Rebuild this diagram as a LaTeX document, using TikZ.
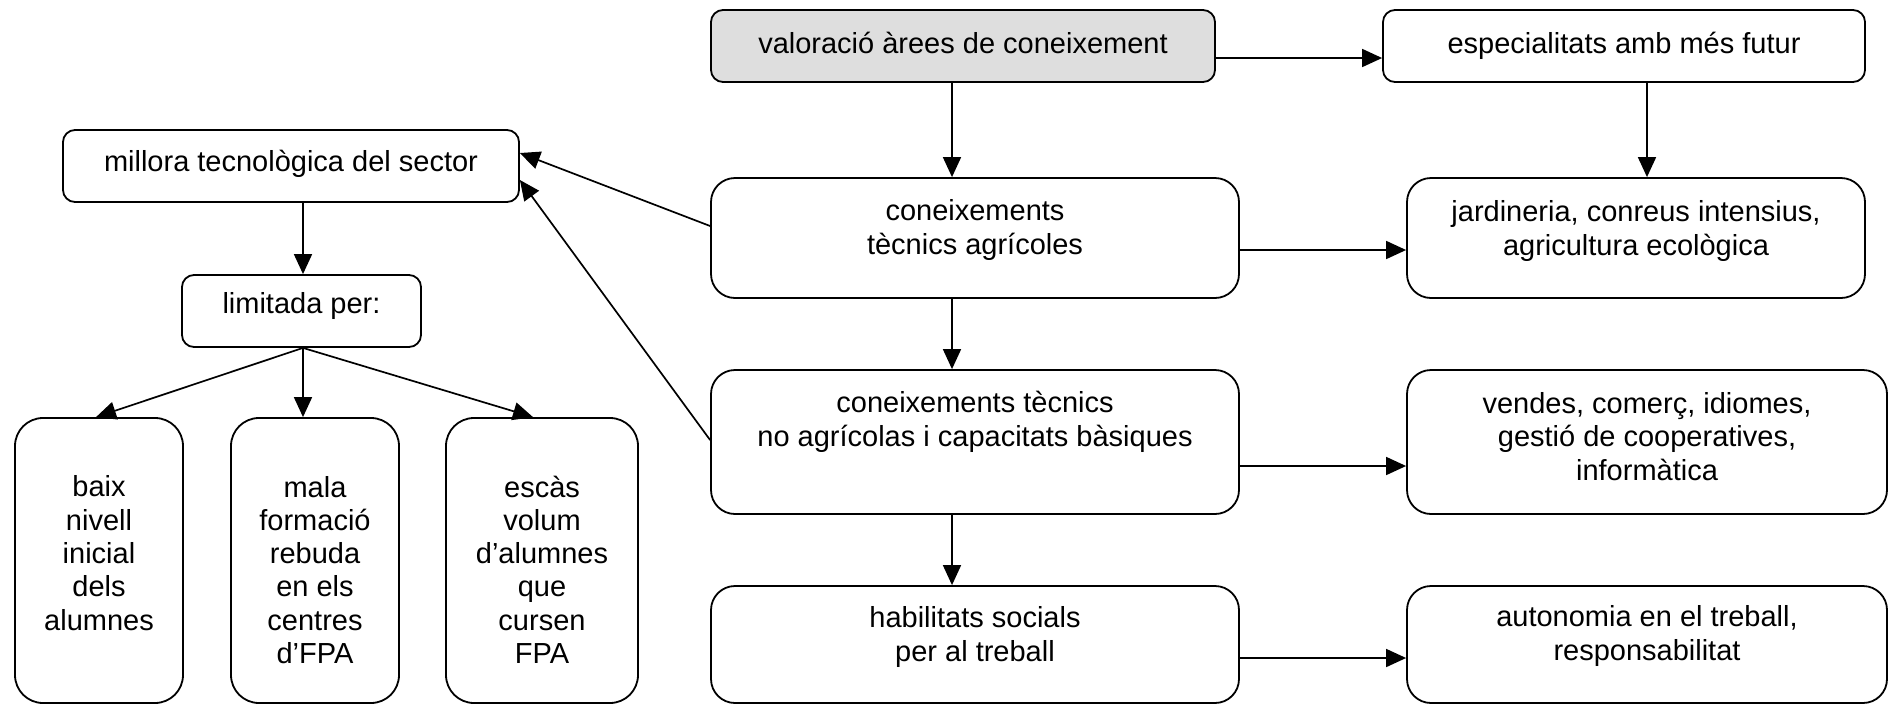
\documentclass[tikz,border=0pt]{standalone}
\usepackage{fontspec}
\setmainfont{Liberation Sans}
\usetikzlibrary{arrows.meta}
\begin{document}
\begin{tikzpicture}[x=1pt,y=-1pt,
  box/.style={draw, line width=1.8pt, rounded corners=#1, inner sep=0pt},
  txt/.style={font=\fontsize{29}{33.3}\selectfont, align=center, inner sep=0pt, anchor=base},
  arr/.style={line width=1.7pt, -{Triangle[length=20pt,width=18pt]}}]
\useasboundingbox (0,0) rectangle (1890,705);
% boxes
\node[box=12pt, fill=black!13, minimum width=504pt, minimum height=72pt] (val) at (963,46) {};
\node[box=12pt, minimum width=482pt, minimum height=72pt] (esp) at (1624,46) {};
\node[box=12pt, minimum width=456pt, minimum height=72pt] (mil) at (291,166) {};
\node[box=24pt, minimum width=528pt, minimum height=120pt] (c1) at (975,238) {};
\node[box=24pt, minimum width=458pt, minimum height=120pt] (jar) at (1636,238) {};
\node[box=12pt, minimum width=239pt, minimum height=72pt] (lim) at (301.5,311) {};
\node[box=24pt, minimum width=528pt, minimum height=144pt] (c2) at (975,442) {};
\node[box=24pt, minimum width=480pt, minimum height=144pt] (ven) at (1647,442) {};
\node[box=28pt, minimum width=168pt, minimum height=285pt] (b1) at (99,560.5) {};
\node[box=28pt, minimum width=168pt, minimum height=285pt] (b2) at (315,560.5) {};
\node[box=28pt, minimum width=192pt, minimum height=285pt] (b3) at (542,560.5) {};
\node[box=24pt, minimum width=528pt, minimum height=117pt] (hab) at (975,644.5) {};
\node[box=24pt, minimum width=480pt, minimum height=117pt] (aut) at (1647,644.5) {};
% texts (anchor base = baseline of the last line)
\node[txt] (valT) at (963,53) {valoració àrees de coneixement};
\node[txt] (espT) at (1624,53) {especialitats amb més futur};
\node[txt] (milT) at (291,171) {millora tecnològica del sector};
\node[txt] (c1T) at (975,254) {coneixements\\tècnics agrícoles};
\node[txt] (jarT) at (1636,255) {jardineria, conreus intensius,\\agricultura ecològica};
\node[txt] (limT) at (301.5,313) {limitada per:};
\node[txt] (c2T) at (975,446) {coneixements tècnics\\no agrícolas i capacitats bàsiques};
\node[txt] (venT) at (1647,480) {vendes, comerç, idiomes,\\gestió de cooperatives,\\informàtica};
\node[txt] (b1T) at (99,630) {baix\\nivell\\inicial\\dels\\alumnes};
\node[txt] (b2T) at (315,663.5) {mala\\formació\\rebuda\\en els\\centres\\d’FPA};
\node[txt] (b3T) at (542,663.5) {escàs\\volum\\d’alumnes\\que\\cursen\\FPA};
\node[txt] (habT) at (975,661) {habilitats socials\\per al treball};
\node[txt] (autT) at (1647,660) {autonomia en el treball,\\responsabilitat};
% helper coordinates
\coordinate (ax) at (952,0);
\coordinate (ex) at (1647,0);
\coordinate (mx) at (303,0);
% connectors
\draw[arr] ([yshift=-12pt]val.east) -- ([yshift=-12pt]esp.west);
\draw[arr] (val.south -| ax) -- (c1.north -| ax);
\draw[arr] (esp.south -| ex) -- (jar.north -| ex);
\draw[arr] (c1.south -| ax) -- (c2.north -| ax);
\draw[arr] (c2.south -| ax) -- (hab.north -| ax);
\draw[arr] ([yshift=-12pt]c1.east) -- ([yshift=-12pt]jar.west);
\draw[arr] ([yshift=-24pt]c2.east) -- ([yshift=-24pt]ven.west);
\draw[arr] ([yshift=-13.5pt]hab.east) -- ([yshift=-13.5pt]aut.west);
\draw[arr] ([yshift=12pt]c1.west) -- ([yshift=13pt]mil.east);
\draw[arr] ([yshift=2pt]c2.west) -- ([yshift=-14pt]mil.east);
\draw[arr] (mil.south -| mx) -- (lim.north -| mx);
\draw[arr] (lim.south -| mx) -- ([xshift=-3pt]b1.north);
\draw[arr] (lim.south -| mx) -- (b2.north -| mx);
\draw[arr] (lim.south -| mx) -- ([xshift=-9pt]b3.north);
\end{tikzpicture}
\end{document}
